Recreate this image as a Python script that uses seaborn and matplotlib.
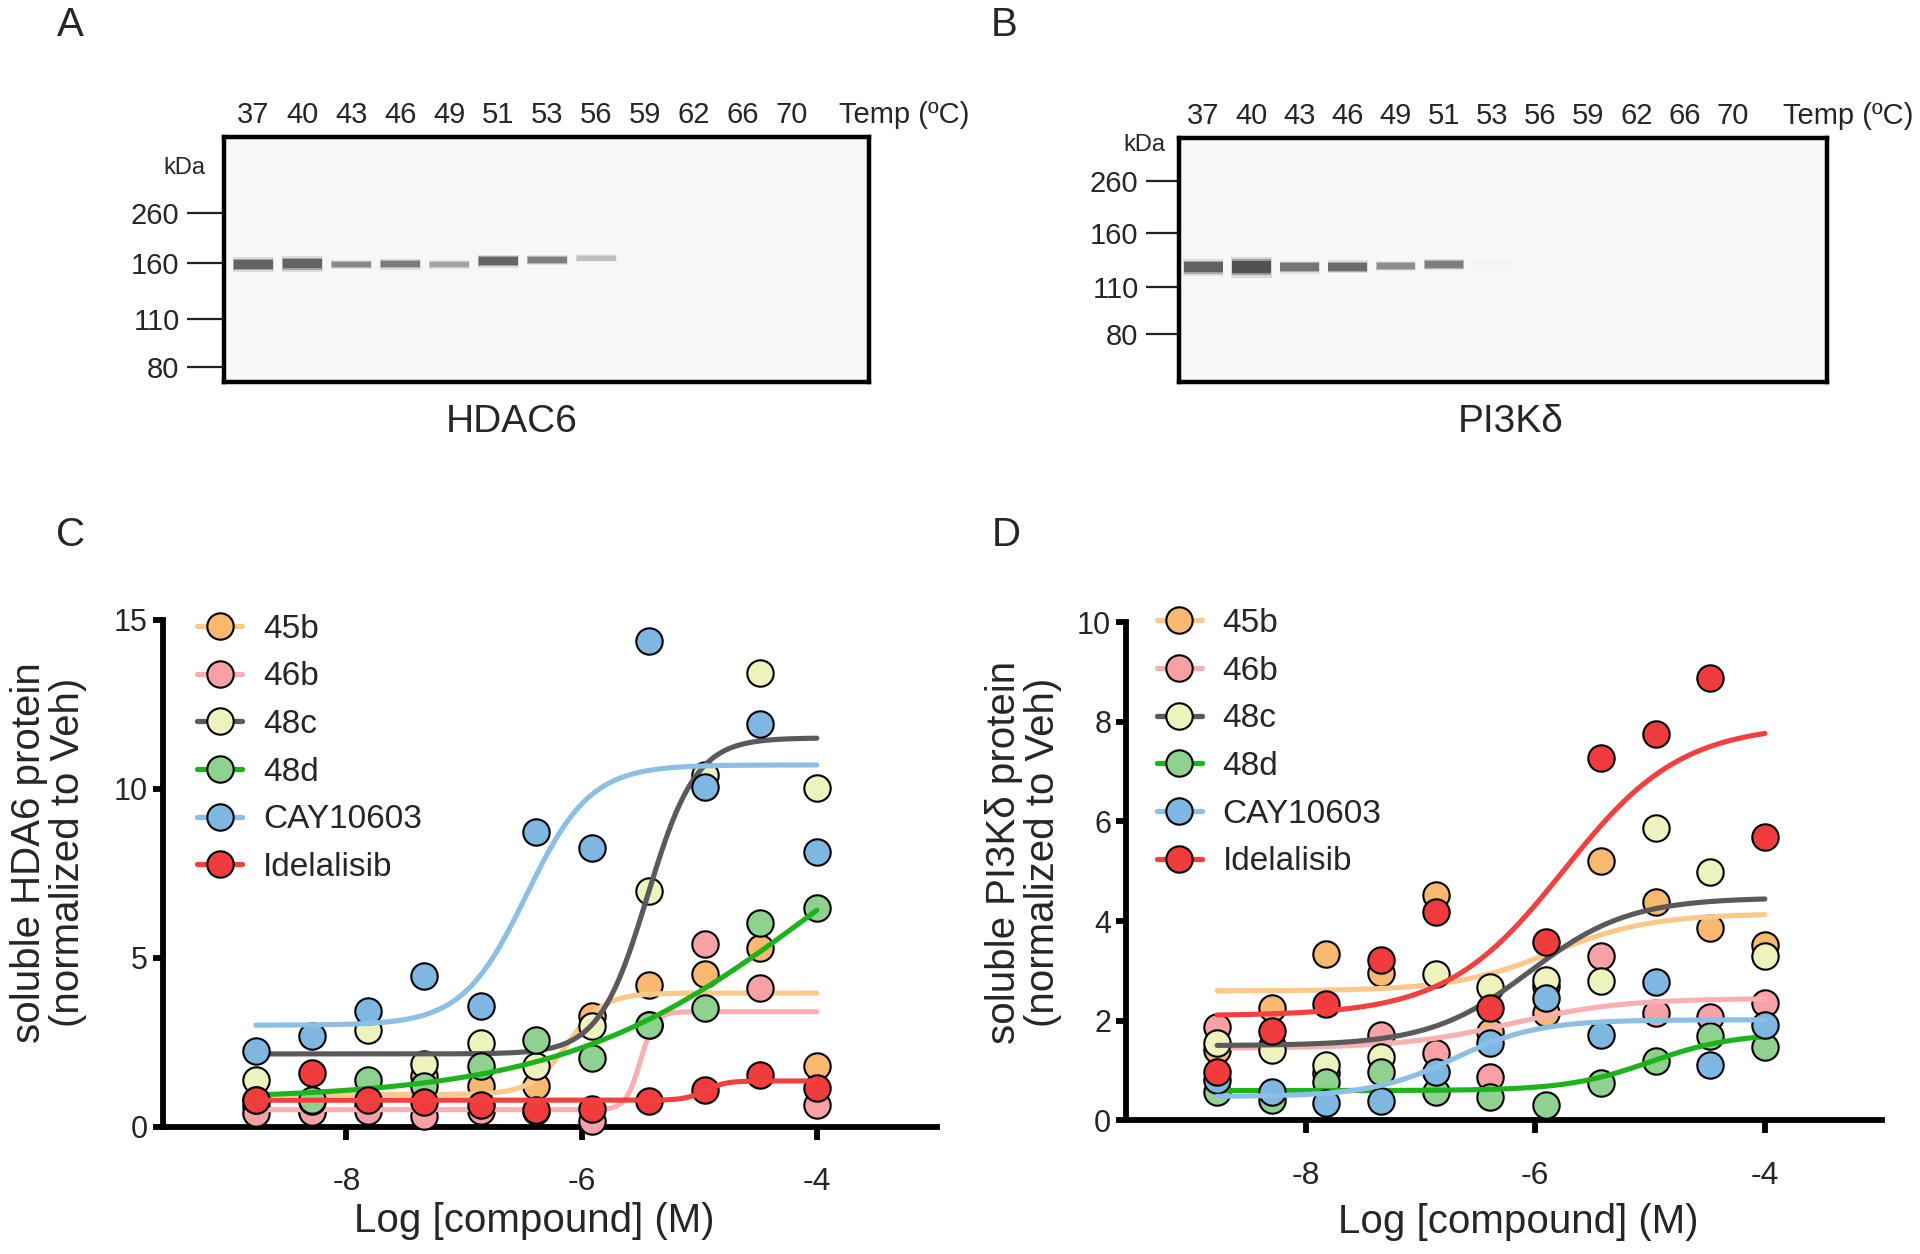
import numpy as np
import pandas as pd
import matplotlib
matplotlib.use("Agg")
import matplotlib.pyplot as plt
import matplotlib.transforms as mtransforms
from matplotlib.lines import Line2D
import seaborn as sns

# ---- blot data (A, B) ----
temps = [37, 40, 43, 46, 49, 51, 53, 56, 59, 62, 66, 70]
marker_kda = [260, 160, 110, 80]

# migration distance from top of membrane (arbitrary units, 0-200)
hdac6_marker_pos = [62, 103, 149, 188]
hdac6_band_int = [0.85, 0.85, 0.65, 0.72, 0.5, 0.85, 0.7, 0.35, 0, 0, 0, 0]
hdac6_band_pos = [104, 103.5, 104, 104, 104, 101.5, 100.5, 99, 99, 99, 99, 99]
hdac6_band_thk = [7, 7.5, 4.5, 5, 4, 6.5, 5, 4, 0, 0, 0, 0]

pi3kd_marker_pos = [35, 78, 122, 161]
pi3kd_band_int = [0.85, 0.95, 0.75, 0.8, 0.62, 0.7, 0.06, 0, 0, 0, 0, 0]
pi3kd_band_pos = [106, 106, 106, 105.5, 105, 103.5, 102, 102, 102, 102, 102, 102]
pi3kd_band_thk = [8, 10, 6.5, 6.5, 4.5, 5.5, 4, 0, 0, 0, 0, 0]

# ---- CETSA dose response (C, D) ----
log_conc = [-8.77, -8.29, -7.82, -7.34, -6.86, -6.39, -5.91, -5.43, -4.95, -4.48, -4.00]
compounds = ["45b", "46b", "48c", "48d", "CAY10603", "Idelalisib"]
point_colors = ["#F8B870", "#F7A1A6", "#EEF3BE", "#8FD18E", "#7FB7E3", "#F03C3C"]
line_colors = ["#FCC98A", "#FAB0B3", "#5A5A5A", "#1DB31D", "#8BBFE6", "#F2403F"]

hdac6_45b = [0.6, 0.45, 0.6, 1.49, 1.19, 1.19, 3.26, 4.2, 4.5, 5.29, 1.8]
hdac6_46b = [0.41, 0.42, 0.45, 0.3, 0.45, 0.45, 0.16, 3.0, 5.41, 4.1, 0.65]
hdac6_48c = [1.39, 0.75, 2.85, 1.86, 2.48, 1.78, 2.97, 6.96, 10.41, 13.42, 10.02]
hdac6_48d = [0.8, 0.8, 1.39, 1.2, 1.78, 2.57, 2.03, 3.02, 3.51, 6.03, 6.47]
hdac6_cay = [2.25, 2.67, 3.43, 4.45, 3.56, 8.73, 8.24, 14.36, 10.05, 11.92, 8.12]
hdac6_idel = [0.8, 1.6, 0.8, 0.72, 0.65, 0.5, 0.52, 0.75, 1.09, 1.54, 1.14]

pi3kd_45b = [1.41, 2.25, 3.35, 2.95, 4.52, 1.78, 2.15, 5.21, 4.39, 3.86, 3.52]
pi3kd_46b = [1.88, 1.5, 0.95, 1.71, 1.35, 0.88, 2.7, 3.29, 2.15, 2.08, 2.35]
pi3kd_48c = [1.56, 1.41, 1.11, 1.28, 2.94, 2.68, 2.82, 2.80, 5.86, 4.99, 3.29]
pi3kd_48d = [0.58, 0.41, 0.78, 0.98, 0.58, 0.48, 0.31, 0.76, 1.20, 1.70, 1.47]
pi3kd_cay = [0.81, 0.58, 0.36, 0.40, 0.98, 1.55, 2.45, 1.72, 2.78, 1.11, 1.92]
pi3kd_idel = [0.98, 1.80, 2.34, 3.22, 4.19, 2.26, 3.59, 7.27, 7.75, 8.87, 5.68]

# fitted 4PL parameters: bottom, top, logEC50, hill
hdac6_fits = [(0.95, 3.95, -6.12, 2.8), (0.5, 3.4, -5.5, 7.0), (2.15, 11.5, -5.44, 2.1),
              (0.8, 12.0, -4.0, 0.4), (3.0, 10.7, -6.47, 1.6), (0.78, 1.35, -4.95, 5.0)]
pi3kd_fits = [(2.6, 4.15, -5.85, 1.0), (1.45, 2.45, -6.2, 0.9), (1.5, 4.47, -6.05, 1.0),
              (0.6, 1.75, -5.0, 1.2), (0.48, 2.02, -6.7, 1.2), (2.1, 7.95, -5.75, 0.85)]


def four_pl(x, bottom, top, log_ec50, hill):
    return bottom + (top - bottom) / (1 + 10 ** ((log_ec50 - x) * hill))


def to_long(series):
    rows = []
    for name, vals in zip(compounds, series):
        for x, v in zip(log_conc, vals):
            rows.append({"compound": name, "logc": x, "value": v})
    return pd.DataFrame(rows)


sns.set_style("ticks")
plt.rcParams["font.family"] = ["Liberation Sans", "DejaVu Sans"]
plt.rcParams["axes.unicode_minus"] = False

fig = plt.figure(figsize=(19.2, 12.54), dpi=100)


def draw_blot(rect, marker_pos, band_int, band_pos, band_thk, xlim, tick_len,
              kda_xy, temp_x, name, name_x):
    ax = fig.add_axes(rect)
    ax.set_facecolor("#f7f7f7")
    x = np.arange(len(temps))
    inten = np.array(band_int)
    pos = np.array(band_pos)
    thk = np.array(band_thk)
    keep = inten > 0
    for scale, alpha in [(1.7, 0.18), (1.3, 0.45), (1.0, 1.0)]:
        h = thk[keep] * scale
        cols = [str(round(1 - 0.72 * i, 3)) for i in inten[keep]]
        ax.bar(x[keep], h, bottom=pos[keep] - h / 2, width=0.8 + 0.05 * (scale - 1),
               color=cols, alpha=alpha, edgecolor="none", zorder=2)
    ax.set_xlim(*xlim)
    ax.set_ylim(200, 0)
    ax.set_xticks([])
    ax.set_yticks(marker_pos, labels=[str(k) for k in marker_kda])
    ax.tick_params(axis="y", length=tick_len, width=1.6, pad=5, labelsize=21, color="#222222")
    for s in ax.spines.values():
        s.set_visible(True)
        s.set_linewidth(3.2)
        s.set_color("black")
    trans = mtransforms.blended_transform_factory(ax.transData, ax.transAxes)
    for i, t in enumerate(temps):
        ax.text(i, 1.09, str(t), transform=trans, ha="center", va="center", fontsize=21)
    ax.text(temp_x, 1.09, "Temp (ºC)", transform=trans, ha="center", va="center", fontsize=21)
    ktrans = mtransforms.blended_transform_factory(ax.transAxes, ax.transData)
    ax.text(kda_xy[0], kda_xy[1], "kDa", transform=ktrans, ha="center", va="center", fontsize=17)
    ax.text(name_x, -0.165, name, transform=ax.transAxes, ha="center", va="center", fontsize=28)
    return ax


draw_blot([0.1167, 0.6954, 0.336, 0.1954], hdac6_marker_pos, hdac6_band_int,
          hdac6_band_pos, hdac6_band_thk, (-0.6, 12.575), 27, (-0.061, 25), 13.3,
          "HDAC6", 0.446)
draw_blot([0.614, 0.6954, 0.3375, 0.1946], pi3kd_marker_pos, pi3kd_band_int,
          pi3kd_band_pos, pi3kd_band_thk, (-0.51, 12.96), 24, (-0.053, 6), 13.4,
          "PI3K\u03b4", 0.512)


def draw_curves(rect, series, fits, ylim, yticks, ylabel, ylab_xy, xlab_xy, leg_xy):
    ax = fig.add_axes(rect)
    df = to_long(series)
    xx = np.linspace(min(log_conc), max(log_conc), 300)
    for i, name in enumerate(compounds):
        sub = df[df["compound"] == name]
        sns.scatterplot(data=sub, x="logc", y="value", color=point_colors[i], s=361,
                        edgecolor="black", linewidth=1.5, ax=ax, zorder=3 + 2 * i,
                        clip_on=False, legend=False)
        sns.lineplot(x=xx, y=four_pl(xx, *fits[i]), color=line_colors[i], lw=3.7,
                     ax=ax, zorder=4 + 2 * i)
    ax.set_xlim(-9.56, -2.98)
    ax.set_ylim(*ylim)
    ax.set_xticks([-8, -6, -4], labels=["-8", "-6", "-4"])
    ax.set_yticks(yticks, labels=[str(v) for v in yticks])
    sns.despine(ax=ax)
    for s in ["left", "bottom"]:
        ax.spines[s].set_linewidth(4.2)
        ax.spines[s].set_color("black")
    ax.tick_params(axis="x", length=9, width=4.2, pad=20, labelsize=23, color="black")
    ax.tick_params(axis="y", length=7, width=4.2, pad=4, labelsize=22, color="black")
    ax.set_xlabel("Log [compound] (M)", fontsize=29, va="center")
    ax.xaxis.set_label_coords(*xlab_xy)
    ax.set_ylabel(ylabel, fontsize=29, va="center", linespacing=1.05)
    ax.yaxis.set_label_coords(*ylab_xy)
    handles = [Line2D([0], [0], color=line_colors[i], lw=3.8, marker="o", ms=19,
                      mfc=point_colors[i], mec="black", mew=1.5) for i in range(len(compounds))]
    ax.legend(handles, compounds, loc="upper left", bbox_to_anchor=leg_xy, frameon=False,
              fontsize=24, handlelength=1.35, handletextpad=0.63, labelspacing=0.5,
              borderpad=0, borderaxespad=0)
    return ax


draw_curves([0.0849, 0.1016, 0.403, 0.4043],
            [hdac6_45b, hdac6_46b, hdac6_48c, hdac6_48d, hdac6_cay, hdac6_idel],
            hdac6_fits, (0, 15), [0, 5, 10, 15],
            "soluble HDA6 protein\n(normalized to Veh)", (-0.148, 0.54), (0.48, -0.187),
            (0.044, 1.012))
draw_curves([0.5867, 0.1065, 0.3935, 0.3974],
            [pi3kd_45b, pi3kd_46b, pi3kd_48c, pi3kd_48d, pi3kd_cay, pi3kd_idel],
            pi3kd_fits, (0, 10), [0, 2, 4, 6, 8, 10],
            "soluble PI3K\u03b4 protein\n(normalized to Veh)", (-0.136, 0.537), (0.518, -0.204),
            (0.040, 1.028))

for letter, x, y in [("A", 0.0365, 0.980), ("B", 0.523, 0.980),
                     ("C", 0.037, 0.573), ("D", 0.524, 0.573)]:
    fig.text(x, y, letter, fontsize=29, ha="center", va="center")

fig.savefig("out.png", dpi=100)
